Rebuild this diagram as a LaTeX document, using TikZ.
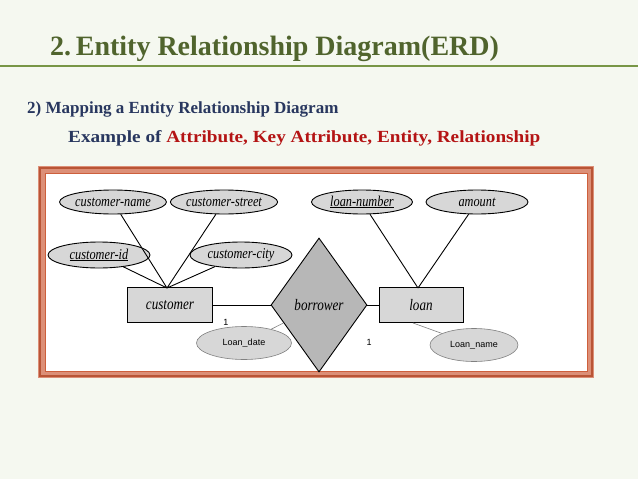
\documentclass[tikz,border=0pt]{standalone}
\usepackage{fontspec}
\usepackage{graphicx}
\setmainfont{Liberation Serif}
\setsansfont{Liberation Sans}
\usetikzlibrary{shapes.geometric}
\definecolor{bg}{RGB}{245,248,240}
\definecolor{ttl}{RGB}{80,100,45}
\definecolor{gline}{RGB}{120,150,70}
\definecolor{navy}{RGB}{40,55,95}
\definecolor{dred}{RGB}{180,20,20}
\definecolor{frame}{RGB}{205,95,60}
\definecolor{fillg}{RGB}{215,215,215}
\newcommand{\nar}[1]{\scalebox{0.82}[1]{#1}}
\tikzset{
  attr/.style={ellipse,draw,fill=fillg,line width=0.9pt,inner sep=0pt,font=\itshape\fontsize{15}{15}\selectfont},
  attrs/.style={ellipse,draw=gray,fill=fillg,line width=0.6pt,inner sep=0pt,font=\sffamily\fontsize{9}{9}\selectfont},
  ent/.style={rectangle,draw,fill=fillg,line width=0.9pt,minimum width=85pt,minimum height=35pt,font=\itshape\fontsize{16}{16}\selectfont},
  link/.style={line width=0.9pt},
}
\begin{document}
\begin{tikzpicture}[x=1pt,y=-1pt]
\fill[bg] (0,0) rectangle (638,479);
\useasboundingbox (0,0) rectangle (638,479);
\node[anchor=base west,inner sep=0pt,text=ttl,font=\bfseries\fontsize{28}{28}\selectfont] (title) at (50,55) {2.\,Entity Relationship Diagram(ERD)};
\draw[gline,line width=2.5pt] (0,66) -- (638,66);
\node[anchor=base west,inner sep=0pt,text=navy,font=\bfseries\fontsize{17}{17}\selectfont] (sub) at (27,113) {2) Mapping a Entity Relationship Diagram};
\node[anchor=base west,inner sep=0pt,text=navy,font=\bfseries\fontsize{17}{17}\selectfont] (ex) at (68,142) {\scalebox{1.13}[1]{Example of \textcolor{dred}{Attribute, Key Attribute, Entity, Relationship}}};
% frame
\fill[frame!70] (38,166) rectangle (594,378);
\draw[frame!90!black,line width=1.2pt] (40,168) rectangle (592,376);
\fill[white] (45,173) rectangle (587,371);
\draw[frame,line width=1pt] (45,173) rectangle (587,371);
% nodes
\node[attr,minimum width=101pt,minimum height=24pt] (cn) at (113,202) {\nar{customer-name}};
\node[attr,minimum width=102pt,minimum height=24pt] (cs) at (224,202) {\nar{customer-street}};
\node[attr,minimum width=102pt,minimum height=26pt] (ci) at (99,255) {\nar{\underline{customer-id}}};
\node[attr,minimum width=102pt,minimum height=26pt] (cc) at (241,255) {\nar{customer-city}};
\node[attr,minimum width=101pt,minimum height=24pt] (ln) at (362,202) {\nar{\underline{loan-number}}};
\node[attr,minimum width=102pt,minimum height=24pt] (am) at (477,202) {\nar{amount}};
\node[ent] (cu) at (170,305) {\nar{customer}};
\node[ent,minimum width=84pt] (lo) at (421,305) {\nar{loan}};
\node[diamond,draw,fill=fillg!85!black,line width=0.9pt,minimum width=96pt,minimum height=134pt,inner sep=0pt,aspect=0.72,font=\itshape\fontsize{16}{16}\selectfont] (bo) at (319,305) {\nar{borrower}};
\node[attrs,minimum width=95pt,minimum height=33pt] (ld) at (244,343) {Loan\_date};
\node[attrs,minimum width=88pt,minimum height=33pt] (lnm) at (474,345) {Loan\_name};
\coordinate (ctop) at (167,288);
\coordinate (ltop) at (418,288);
\draw[link] (cn) -- (ctop) (cs) -- (ctop) (ci) -- (ctop) (cc) -- (ctop);
\draw[link] (ln) -- (ltop) (am) -- (ltop);
\draw[link] (cu) -- (bo) (bo) -- (lo);
\draw[gray,line width=0.6pt] (ld) -- (bo);
\coordinate (lb) at (413,323);
\draw[gray,line width=0.6pt] (lb) -- (lnm);
\node[font=\sffamily\fontsize{9}{9}\selectfont] (one1) at (226,322) {1};
\node[font=\sffamily\fontsize{9}{9}\selectfont] (one2) at (369,342) {1};
\end{tikzpicture}
\end{document}
